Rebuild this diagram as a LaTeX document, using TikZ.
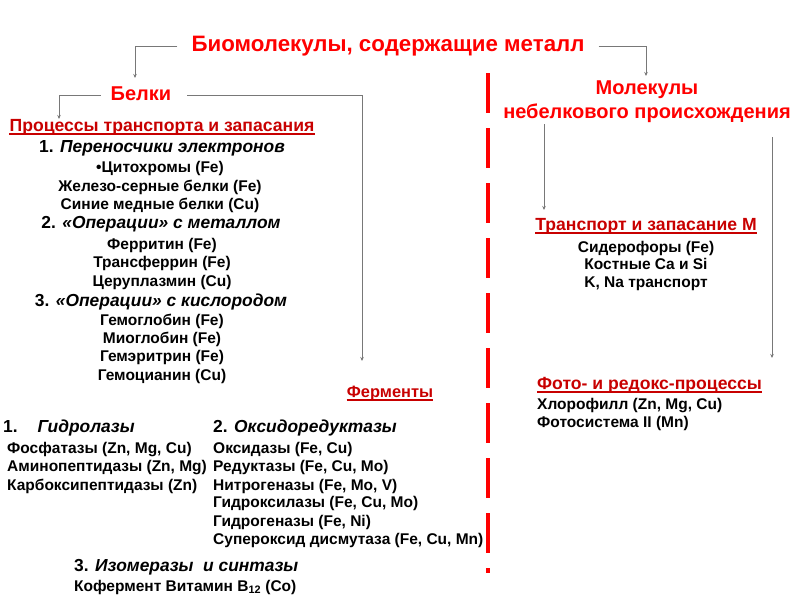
\documentclass[tikz,border=0pt]{standalone}
\usepackage{fontspec}
\setmainfont{Liberation Sans}
\usetikzlibrary{arrows.meta}
\definecolor{brightred}{RGB}{255,0,0}
\definecolor{darkred}{RGB}{200,0,0}
\definecolor{linegray}{RGB}{120,120,120}
\tikzset{
  titlered/.style={text=brightred,font=\bfseries\fontsize{22.3}{26}\selectfont,inner sep=0pt,text height=16pt,text depth=4.6pt},
  bigred/.style={text=brightred,font=\bfseries\fontsize{20}{24}\selectfont,inner sep=0pt,text height=14.4pt,text depth=4pt},
  subhead/.style={text=darkred,font=\bfseries\fontsize{17.6}{21}\selectfont,inner sep=0pt,text height=12.6pt,text depth=3.6pt},
  grouphead/.style={font=\bfseries\fontsize{17.4}{21}\selectfont,inner sep=0pt,text height=12.5pt,text depth=3.6pt},
  item/.style={font=\bfseries\fontsize{15.5}{18}\selectfont,inner sep=0pt,text height=11.2pt,text depth=3.2pt},
  conn/.style={draw=linegray,line width=0.9pt,-{Stealth[length=4pt,width=3.5pt]}},
  uline/.style={draw=darkred,line width=1.3pt}
}
\begin{document}
\begin{tikzpicture}[x=1pt,y=-1pt]
 \useasboundingbox (0,0) rectangle (800,600);
 % headings
 \node[titlered] (title) at (388,46) {Биомолекулы, содержащие металл};
 \node[bigred] (bel) at (141,95) {Белки};
 \node[bigred] (mol) at (647,89) {Молекулы};
 \node[bigred] (mol2) at (647,113) {небелкового происхождения};
 % separator
 \draw[brightred,line width=4.5pt,dash pattern=on 40pt off 15pt] (488,73) -- (488,573);
 % proteins: transport and storage
 \node[subhead] (proc) at (162,127) {Процессы транспорта и запасания};
 \node[grouphead] (g1) at (162,148) {1. \textit{Переносчики электронов}};
 \foreach \txt/\y/\n in {{•Цитохромы (Fe)}/168/1,{Железо-серные белки (Fe)}/187/2,{Синие медные белки (Cu)}/205/3}
   \node[item] (a\n) at (160,\y) {\txt};
 \node[grouphead] (g2) at (161,224) {2. \textit{«Операции» с металлом}};
 \foreach \txt/\y/\n in {{Ферритин (Fe)}/245/1,{Трансферрин (Fe)}/263/2,{Церуплазмин (Cu)}/282/3}
   \node[item] (b\n) at (162,\y) {\txt};
 \node[grouphead] (g3) at (161,302) {3. \textit{«Операции» с кислородом}};
 \foreach \txt/\y/\n in {{Гемоглобин (Fe)}/321/1,{Миоглобин (Fe)}/339/2,{Гемэритрин (Fe)}/357/3,{Гемоцианин (Cu)}/376/4}
   \node[item] (c\n) at (162,\y) {\txt};
 % enzymes
 \node[subhead,font=\bfseries\fontsize{16.4}{20}\selectfont] (ferm) at (390,393) {Ферменты};
 \node[grouphead,anchor=west] (h1) at (3,428) {1.\hspace{20pt}\textit{Гидролазы}};
 \node[grouphead,anchor=west] (h2) at (213,428) {2. \textit{Оксидоредуктазы}};
 \foreach \txt/\y/\n in {{Фосфатазы (Zn, Mg, Cu)}/449/1,{Аминопептидазы (Zn, Mg)}/467/2,{Карбоксипептидазы (Zn)}/486/3}
   \node[item,anchor=west] (d\n) at (7,\y) {\txt};
 \foreach \txt/\y/\n in {{Оксидазы (Fe, Cu)}/449/1,{Редуктазы (Fe, Cu, Mo)}/467/2,{Нитрогеназы (Fe, Mo, V)}/486/3,
   {Гидроксилазы (Fe, Cu, Mo)}/503/4,{Гидрогеназы (Fe, Ni)}/522/5,{Супероксид дисмутаза (Fe, Cu, Mn)}/540/6}
   \node[item,anchor=west] (e\n) at (213,\y) {\txt};
 \node[grouphead,anchor=west] (h3) at (74,567) {3. \textit{Изомеразы\ \ и синтазы}};
 \node[item,anchor=west] (f1) at (74,587) {Кофермент Витамин B\textsubscript{12} (Co)};
 % non-protein molecules
 \node[subhead] (trans) at (646,226) {Транспорт и запасание М};
 \foreach \txt/\y/\n in {{Сидерофоры (Fe)}/248/1,{Костные Ca и Si}/265/2,{K, Na транспорт}/283/3}
   \node[item] (t\n) at (646,\y) {\txt};
 \node[subhead,anchor=west] (photo) at (537,385) {Фото- и редокс-процессы};
 \foreach \txt/\y/\n in {{Хлорофилл (Zn, Mg, Cu)}/405/1,{Фотосистема II (Mn)}/423/2}
   \node[item,anchor=west] (r\n) at (537,\y) {\txt};
 % underlines
 \foreach \u in {proc,ferm,trans,photo}
   \draw[uline] ([yshift=-2.4pt]\u.base west) -- ([yshift=-2.4pt]\u.base east);
 % connectors
 \coordinate (tl) at (135,78);
 \coordinate (tr) at (646,76);
 \coordinate (pl) at (59,119);
 \coordinate (fa) at (362,361);
 \coordinate (ta) at (544,210);
 \coordinate (pa) at (772,358);
 \draw[conn] ([xshift=-14pt]title.west) -| (tl);
 \draw[conn] ([xshift=14pt]title.east) -| (tr);
 \draw[conn] ([xshift=-10pt]bel.west) -| (pl);
 \draw[conn] ([xshift=16pt]bel.east) -| (fa);
 \draw[conn] ([yshift=-2pt]ta |- mol2.south) -- (ta);
 \draw[conn] ([yshift=-15pt]pa |- mol2.south) -- (pa);
\end{tikzpicture}
\end{document}
